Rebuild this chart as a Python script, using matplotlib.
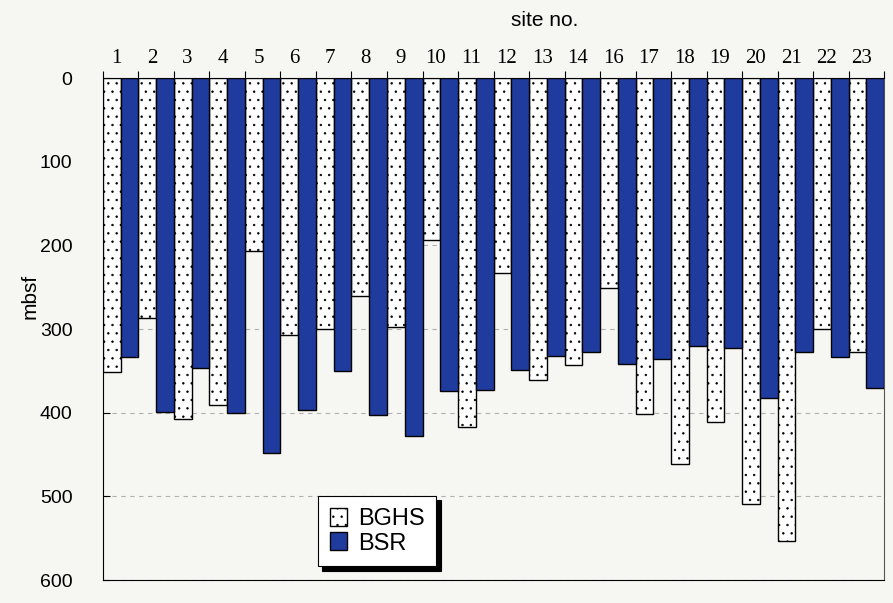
import numpy as np
import matplotlib.pyplot as plt

# Depths below seafloor (m) at each site
sites = ['1', '2', '3', '4', '5', '6', '7', '8', '9', '10', '11',
         '12', '13', '14', '16', '17', '18', '19', '20', '21', '22', '23']
bghs = [351, 287, 407, 391, 207, 307, 300, 261, 297, 193, 417,
        233, 361, 343, 251, 401, 461, 411, 509, 553, 300, 327]
bsr = [333, 399, 346, 400, 448, 397, 350, 403, 428, 374, 373,
       349, 332, 327, 342, 336, 320, 323, 383, 328, 333, 371]

paper = '#f6f6f2'
blue = '#203b9e'

plt.rcParams['hatch.linewidth'] = 0.5

fig = plt.figure(figsize=(8.93, 6.03), dpi=100, facecolor=paper)
ax = fig.add_axes([0.1153, 0.0381, 0.8747, 0.8325], facecolor=paper)

x = np.arange(len(sites))
w = 0.5
ax.bar(x - w / 2, bghs, width=w, color='white', edgecolor='black',
       linewidth=1.0, hatch='..', label='BGHS', zorder=3)
ax.bar(x + w / 2, bsr, width=w, color=blue, edgecolor='black',
       linewidth=1.0, label='BSR', zorder=3)

ax.set_xlim(-0.5, len(sites) - 0.5)
ax.set_ylim(600, 0)

# depth ticks on the left, pointing inward
ax.set_yticks(np.arange(0, 601, 100))
ax.tick_params(axis='y', direction='in', length=5, labelsize=14,
               pad=22, labelfontfamily='Liberation Sans')
ax.yaxis.grid(True, linestyle=(0, (4, 4)), color='#b0b0b0', linewidth=0.8, zorder=0)

# site numbers along the top, ticks between the groups
ax.xaxis.tick_top()
ax.set_xticks(np.arange(len(sites) + 1) - 0.5)
ax.set_xticklabels([])
ax.tick_params(axis='x', which='major', direction='out', length=5, width=0.8)
ax.set_xticks(x - 0.12, minor=True)
ax.set_xticklabels(sites, minor=True, fontfamily='Liberation Serif', fontsize=15)
ax.tick_params(axis='x', which='minor', length=0, pad=7)

for s in ax.spines.values():
    s.set_linewidth(0.8)
ax.spines['right'].set_color('#555555')

fig.text(30 / 893, 1 - 296 / 603, 'mbsf', fontsize=15, fontfamily='Liberation Sans',
         rotation=90, ha='center', va='center')
fig.text(545 / 893, 1 - 20 / 603, 'site no.', fontsize=15, fontfamily='Liberation Sans',
         ha='center', va='center')

leg = ax.legend(loc='lower left', bbox_to_anchor=(0.275, 0.027), frameon=True,
                fancybox=False, edgecolor='black', framealpha=1,
                prop={'family': 'Liberation Sans', 'size': 17},
                handlelength=0.75, handleheight=0.8, handletextpad=0.45,
                borderpad=0.5, labelspacing=0.1, borderaxespad=0,
                shadow={'ox': 3, 'oy': -3, 'color': 'black', 'alpha': 1})
leg.get_frame().set_linewidth(0.8)
leg.set_zorder(5)

fig.savefig('out.png', dpi=100, facecolor=paper)
